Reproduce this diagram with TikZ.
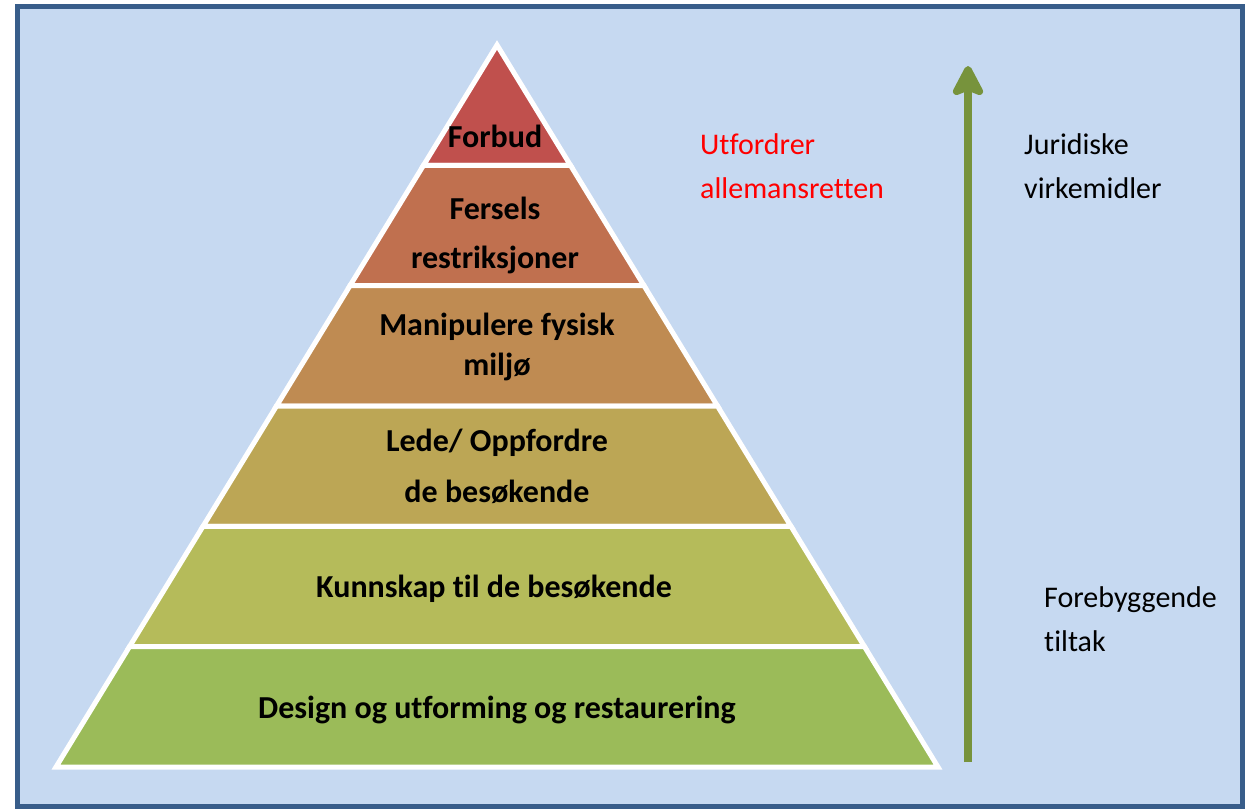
\documentclass[tikz,border=0pt]{standalone}
\usepackage{fontspec}
\setmainfont{Carlito}[Ligatures=NoCommon]
\usetikzlibrary{arrows.meta, positioning, calc}

\definecolor{bgblue}{HTML}{C6D9F1}
\definecolor{frameblue}{HTML}{385D8A}
\definecolor{layerA}{HTML}{C0504D}
\definecolor{layerB}{HTML}{C0704F}
\definecolor{layerC}{HTML}{BF8B52}
\definecolor{layerD}{HTML}{BCA655}
\definecolor{layerE}{HTML}{B5BB5A}
\definecolor{layerF}{HTML}{9BBB59}
\definecolor{arrowgreen}{HTML}{77933C}

\begin{document}
\begin{tikzpicture}[x=1pt, y=-1pt,
    layerbox/.style={draw=white, line width=5pt, line join=miter},
    layertext/.style={font=\bfseries\fontsize{32}{48}\selectfont, align=center, inner sep=0pt},
    sidetext/.style={font=\fontsize{30}{44}\selectfont, align=left, inner sep=0pt, anchor=west},
    arrow/.style={line width=7.5pt, arrowgreen, -{Stealth[length=36pt, width=37pt, inset=7pt, round]}},
]
\useasboundingbox (0,0) rectangle (1255,809);

% Background
\draw[fill=bgblue, draw=frameblue, line width=5pt] (17.5,6.5) rectangle (1242,806);

% Pyramid
\coordinate (apex) at (497,45);
\coordinate (baseL) at (56,767);
\coordinate (baseR) at (938,767);
\foreach \k/\col [evaluate=\k as \ta using \k/6, evaluate=\k as \tb using (\k+1)/6] in
    {0/layerA, 1/layerB, 2/layerC, 3/layerD, 4/layerE, 5/layerF}
  \draw[layerbox, fill=\col] ($(apex)!\ta!(baseL)$) -- ($(apex)!\tb!(baseL)$)
      -- ($(apex)!\tb!(baseR)$) -- ($(apex)!\ta!(baseR)$) -- cycle;

% Layer labels
\node[layertext, anchor=base] (forbud) at (495,147) {Forbud};
\node[layertext] (fersels) at (495,235) {Fersels\\[1pt]restriksjoner};
\node[layertext] (manipulere) at (497,347) {Manipulere fysisk\\[-8pt]miljø};
\node[layertext] (lede) at (497,466) {Lede/ Oppfordre\\[3pt]de besøkende};
\node[layertext, anchor=base] (kunnskap) at (494,597) {Kunnskap til de besøkende};
\node[layertext, anchor=base] (design) at (497,718) {Design og utforming og restaurering};

% Side texts
\node[sidetext, text=red] (utfordrer) at (700,166) {Utfordrer\\allemansretten};
\node[sidetext] (juridiske) at (1024,166) {Juridiske\\virkemidler};
\node[sidetext] (forebyggende) at (1044,619) {Forebyggende\\tiltak};

% Arrow
\coordinate (arrowStart) at (968,762);
\coordinate (arrowEnd) at (968,66);
\draw[arrow] (arrowStart) -- (arrowEnd);

\end{tikzpicture}
\end{document}
